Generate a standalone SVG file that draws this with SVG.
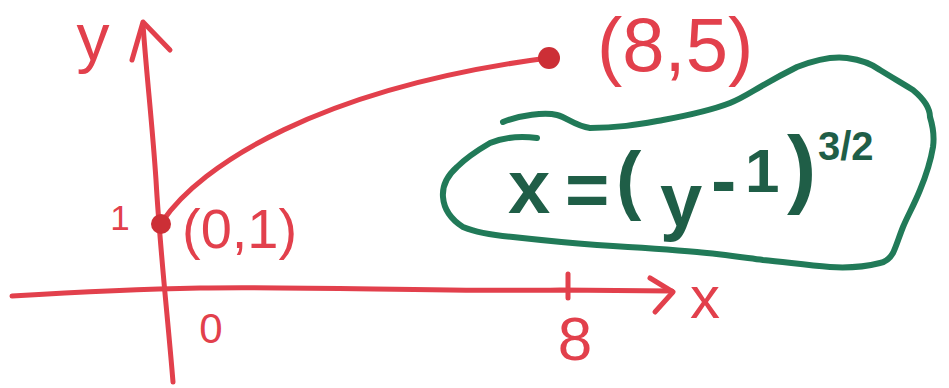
<svg xmlns="http://www.w3.org/2000/svg" width="949" height="388" viewBox="0 0 949 388">
<style>
.red{fill:none;stroke:#e2404c;stroke-width:5;stroke-linecap:round;stroke-linejoin:round}
.rt{fill:#e2404c;font-family:"Liberation Sans",Arial,sans-serif}
.gt{fill:#1f5e47;font-family:"Liberation Sans",Arial,sans-serif;font-weight:bold}
.grn{fill:none;stroke:#217a58;stroke-width:6;stroke-linecap:round;stroke-linejoin:round}
.dot{fill:#cc2f36}
</style>
<rect width="949" height="388" fill="#ffffff"/>
<g id="axes">
<path class="red" d="M173,382 C168,320 160,250 156,180 C152,120 146,70 143,24"/>
<path class="red" d="M132,60 L143,22 L170,50"/>
<path class="red" d="M12,296 C80,292 150,289 200,288 C300,286 450,292 560,290 L672,291"/>
<path class="red" d="M650,278 L673,292 L655,312"/>
<path class="red" stroke-width="6" d="M568,274 L568,298"/>
</g>
<g id="curve">
<path class="red" stroke-width="4.5" d="M162,222 C200,165 320,88 548,58"/>
<circle class="dot" cx="161" cy="224" r="10"/>
<circle class="dot" cx="549" cy="58" r="11"/>
</g>
<g id="labels">
<text class="rt" x="93" y="60" font-size="66" text-anchor="middle">y</text>
<text class="rt" x="120" y="230" font-size="35" text-anchor="middle">1</text>
<text class="rt" x="182" y="248" font-size="56">(0,1)</text>
<text class="rt" x="597" y="71" font-size="76">(8,5)</text>
<text class="rt" x="211" y="343" font-size="42" text-anchor="middle">0</text>
<text class="rt" x="705" y="318" font-size="60" text-anchor="middle">x</text>
<text class="rt" x="575" y="360" font-size="62" text-anchor="middle">8</text>
</g>
<g id="formula">
<path class="grn" d="M503,122 C520,115 545,112 557,115 C568,118 575,126 590,128 C620,128 640,124 663,120 C690,115 712,110 730,103 C748,96 755,88 797,67 C815,60 832,56 847,58 C862,60 872,64 880,70 C893,78 905,85 913,90 C925,100 930,110 930,117 C934,130 934,140 933,147 C930,165 925,178 920,190 C914,205 908,215 903,227 C899,237 896,247 893,253 C889,260 885,262 880,263 C860,268 845,268 830,267 C805,265 785,262 763,260 C740,257 720,254 697,252 C663,249 630,247 597,245 C570,243 540,240 513,237 C490,235 475,232 463,227 C452,220 444,210 443,197 C442,185 448,175 457,167 C466,158 478,150 490,143 C505,137 522,136 537,138"/>
<text class="gt" font-size="76"><tspan x="508" y="213">x</tspan><tspan x="565" y="216">=</tspan><tspan x="616" y="205">(</tspan><tspan x="660" y="226">y</tspan><tspan x="711" y="206">-</tspan><tspan x="745" y="192" font-size="62">1</tspan><tspan x="787" y="197" font-size="88">)</tspan><tspan x="818" y="160" font-size="40">3/2</tspan></text>
</g>
</svg>
